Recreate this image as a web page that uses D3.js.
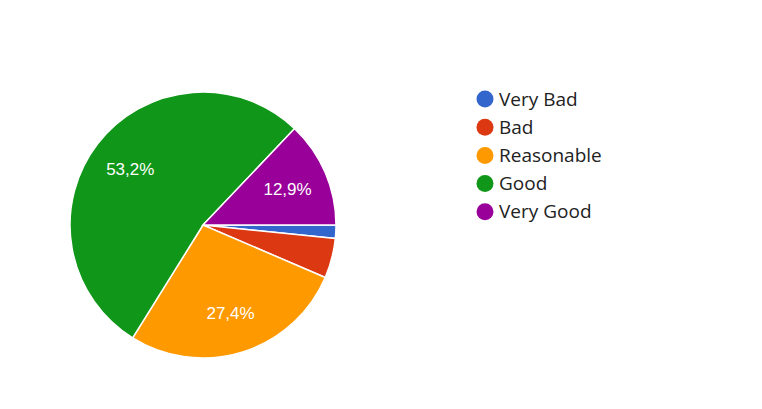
<!DOCTYPE html>
<html>
<head>
<meta charset="utf-8">
<script src="https://cdn.jsdelivr.net/npm/d3@7"></script>
<style>
  body { margin: 0; background: #fff; }
</style>
</head>
<body>
<svg width="762" height="409"></svg>
<script>
// survey answers (62 responses)
var categories = ["Very Bad", "Bad", "Reasonable", "Good", "Very Good"];
var counts = [1, 3, 17, 33, 8];
var colors = ["#3366cc", "#dc3912", "#ff9900", "#109618", "#990099"];

var svg = d3.select("svg"),
    cx = 203, cy = 225, radius = 133;

var total = d3.sum(counts);
var data = categories.map(function(c, i) { return { name: c, value: counts[i], color: colors[i] }; });

var pie = d3.pie()
    .sort(null)
    .value(function(d) { return d.value; })
    .startAngle(Math.PI / 2)
    .endAngle(Math.PI / 2 + 2 * Math.PI);

var arc = d3.arc().innerRadius(0).outerRadius(radius);
var labelArc = d3.arc().innerRadius(92).outerRadius(92);

var g = svg.append("g")
    .attr("transform", "translate(" + cx + "," + cy + ")");

var slices = g.selectAll("g.slice")
  .data(pie(data))
  .enter().append("g")
    .attr("class", "slice");

slices.append("path")
    .attr("d", arc)
    .attr("fill", function(d) { return d.data.color; })
    .attr("stroke", "#fff")
    .attr("stroke-width", 1.5);

// only slices big enough get a label
slices.filter(function(d) { return d.data.value / total > 0.08; })
  .append("text")
    .attr("transform", function(d) { return "translate(" + labelArc.centroid(d) + ")"; })
    .attr("text-anchor", "middle")
    .attr("dy", "0.36em")
    .attr("fill", "#fff")
    .style("font-family", "Arial, 'Liberation Sans', sans-serif")
    .style("font-size", "17px")
    .text(function(d) {
      return (d.data.value / total * 100).toFixed(1).replace(".", ",") + "%";
    });

// legend
var legend = svg.append("g")
    .attr("transform", "translate(485,99)");

var items = legend.selectAll("g")
  .data(data)
  .enter().append("g")
    .attr("transform", function(d, i) { return "translate(0," + (i * 28.2) + ")"; });

items.append("circle")
    .attr("r", 8.5)
    .attr("fill", function(d) { return d.color; });

items.append("text")
    .attr("x", 14)
    .attr("dy", "0.35em")
    .attr("fill", "#222")
    .style("font-family", "'Open Sans', sans-serif")
    .style("font-size", "19px")
    .text(function(d) { return d.name; });
</script>
</body>
</html>
